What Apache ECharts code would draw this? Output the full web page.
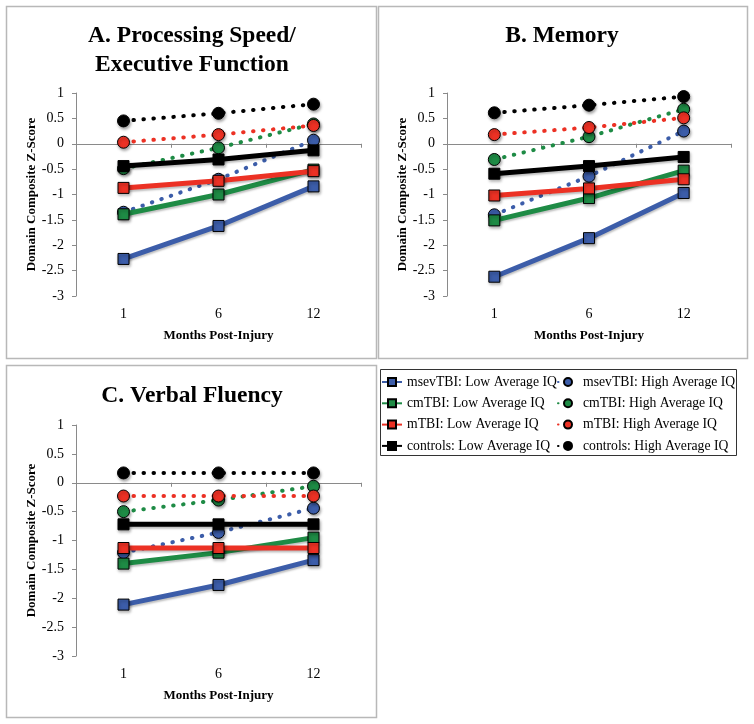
<!DOCTYPE html>
<html><head><meta charset="utf-8">
<script src="https://cdn.jsdelivr.net/npm/echarts@6/dist/echarts.min.js"></script>
<style>html,body{margin:0;padding:0;background:#fff}#c{width:754px;height:724px}</style>
</head><body><div id="c"></div>
<script>
// ---- data ----
const months = ['1', '6', '12'];
const groups = ['msevTBI', 'cmTBI', 'mTBI', 'controls'];
const panelTitles = ['A. Processing Speed/\nExecutive Function', 'B. Memory', 'C. Verbal Fluency'];
const yAxisTitle = 'Domain Composite Z-Score';
const xAxisTitle = 'Months Post-Injury';
const lowLabel = ': Low Average IQ';
const highLabel = ': High Average IQ';
// rows in group order: msevTBI, cmTBI, mTBI, controls ; columns: months 1, 6, 12
const speedLow = [[-2.27, -1.62, -0.84], [-1.39, -1.00, -0.51], [-0.87, -0.73, -0.54], [-0.44, -0.31, -0.13]];
const speedHigh = [[-1.35, -0.70, 0.07], [-0.49, -0.08, 0.39], [0.03, 0.18, 0.36], [0.45, 0.60, 0.78]];
const memoryLow = [[-2.62, -1.86, -0.97], [-1.51, -1.07, -0.53], [-1.02, -0.88, -0.70], [-0.59, -0.44, -0.26]];
const memoryHigh = [[-1.40, -0.64, 0.25], [-0.31, 0.14, 0.68], [0.18, 0.32, 0.51], [0.61, 0.76, 0.93]];
const fluencyLow = [[-2.11, -1.77, -1.34], [-1.40, -1.21, -0.95], [-1.13, -1.13, -1.13], [-0.72, -0.72, -0.72]];
const fluencyHigh = [[-1.21, -0.86, -0.44], [-0.50, -0.30, -0.06], [-0.23, -0.23, -0.23], [0.17, 0.17, 0.17]];

// ---- style ----
const FONT = 'Liberation Serif';
const colors = ['#3C5DA9', '#1E8B45', '#EC3124', '#000000'];
const panels = [
  { low: speedLow, high: speedHigh, grid: { left: 76, top: 93, width: 285, height: 203 }, title: { x: 192, y: 21 }, frame: [6, 6, 370, 352] },
  { low: memoryLow, high: memoryHigh, grid: { left: 447, top: 93, width: 284, height: 203 }, title: { x: 562, y: 21 }, frame: [378, 6, 369, 352] },
  { low: fluencyLow, high: fluencyHigh, grid: { left: 76, top: 425, width: 285, height: 231 }, title: { x: 192, y: 381 }, frame: [6, 365, 370, 352] }
];

const grid = [], xAxis = [], yAxis = [], series = [], graphic = [];
const shadow = { shadowBlur: 3, shadowOffsetX: 1, shadowOffsetY: 2, shadowColor: 'rgba(0,0,0,0.35)' };

panels.forEach((p, i) => {
  grid.push(Object.assign({}, p.grid));
  xAxis.push({
    type: 'category', gridIndex: i, data: months, position: 'bottom',
    axisLine: { onZero: true, lineStyle: { color: '#8a8a8a', width: 1 } },
    axisTick: { show: true, length: 4, lineStyle: { color: '#8a8a8a' } },
    axisLabel: { show: false }, splitLine: { show: false }
  });
  xAxis.push({
    type: 'category', gridIndex: i, data: months, position: 'bottom',
    axisLine: { show: false, onZero: false }, axisTick: { show: false },
    axisLabel: { fontFamily: FONT, fontSize: 14, color: '#000', margin: 11 },
    name: xAxisTitle, nameLocation: 'middle', nameGap: 33,
    nameTextStyle: { fontFamily: FONT, fontSize: 13, fontWeight: 'bold', color: '#000' }
  });
  yAxis.push({
    type: 'value', gridIndex: i, min: -3, max: 1, interval: 0.5,
    axisLine: { show: true, lineStyle: { color: '#8a8a8a', width: 1 } },
    axisTick: { show: true, length: 4, lineStyle: { color: '#8a8a8a' } },
    axisLabel: { fontFamily: FONT, fontSize: 14, color: '#000', margin: 12 },
    splitLine: { show: false },
    name: yAxisTitle, nameLocation: 'middle', nameGap: 37,
    nameTextStyle: { fontFamily: FONT, fontSize: 13, fontWeight: 'bold', color: '#000' }
  });
  groups.forEach((g, k) => {
    series.push({
      name: g + highLabel, type: 'line', xAxisIndex: i * 2, yAxisIndex: i, z: 2 + k * 0.01,
      data: p.high[k], symbol: 'circle', symbolSize: 12, showSymbol: true,
      lineStyle: { color: colors[k], width: 4, type: [0.5, 9.5], cap: 'round' },
      itemStyle: Object.assign({ color: colors[k], borderColor: '#000', borderWidth: 1 }, shadow),
      emphasis: { disabled: true }
    });
  });
  groups.forEach((g, k) => {
    series.push({
      name: g + lowLabel, type: 'line', xAxisIndex: i * 2, yAxisIndex: i, z: 3 + k * 0.01,
      data: p.low[k], symbol: 'rect', symbolSize: 11, showSymbol: true,
      lineStyle: { color: colors[k], width: 5, shadowBlur: 2, shadowOffsetY: 2, shadowColor: 'rgba(0,0,0,0.25)' },
      itemStyle: Object.assign({ color: colors[k], borderColor: '#000', borderWidth: 1 }, shadow),
      emphasis: { disabled: true }
    });
  });
  const f = p.frame;
  graphic.push({ type: 'rect', shape: { x: f[0] + 0.5, y: f[1] + 0.5, width: f[2], height: f[3] }, style: { fill: null, stroke: '#b8b8b8', lineWidth: 1.5 }, z: 0, silent: true });
  graphic.push({
    type: 'text', x: p.title.x, y: p.title.y, z: 10, silent: true,
    style: { text: panelTitles[i], font: 'bold 23.5px "' + FONT + '"', fill: '#000', textAlign: 'center', textVerticalAlign: 'top', lineHeight: 29 }
  });
});
graphic.push({ type: 'rect', shape: { x: 380.5, y: 369.5, width: 356, height: 86 }, style: { fill: null, stroke: '#333', lineWidth: 1 }, z: 0, silent: true });

const legendText = { fontFamily: FONT, fontSize: 13.7, color: '#000' };
const option = {
  animation: false,
  backgroundColor: '#fff',
  grid, xAxis, yAxis, series, graphic,
  legend: [
    { orient: 'vertical', left: 381, top: 375, itemGap: 7.3, itemWidth: 20, itemHeight: 10, textStyle: legendText, padding: 0,
      data: groups.map(g => g + lowLabel), selectedMode: false },
    { orient: 'vertical', left: 557, top: 375, itemGap: 7.3, itemWidth: 20, itemHeight: 10, textStyle: legendText, padding: 0,
      data: groups.map(g => g + highLabel), selectedMode: false }
  ]
};
const chart = echarts.init(document.getElementById('c'), null, { renderer: 'canvas' });
chart.setOption(option);
</script>
</body></html>
